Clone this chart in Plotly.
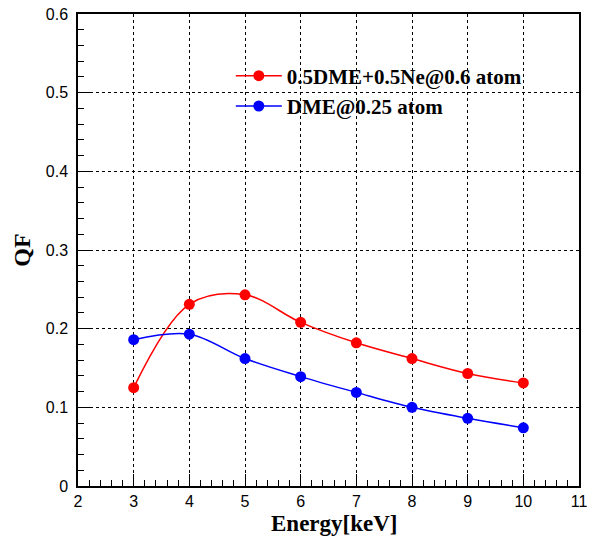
import plotly.graph_objects as go

# Quenching factor versus recoil energy
energy = [3, 4, 5, 6, 7, 8, 9, 10]
qf_dme_ne = [0.125, 0.231, 0.243, 0.208, 0.182, 0.162, 0.143, 0.131]
qf_dme = [0.186, 0.193, 0.162, 0.139, 0.119, 0.100, 0.086, 0.074]

name_dme_ne = "0.5DME+0.5Ne@0.6 atom"
name_dme = "DME@0.25 atom"
x_title = "Energy[keV]"
y_title = "QF"

x_ticks = [2, 3, 4, 5, 6, 7, 8, 9, 10, 11]
y_ticks = [0, 0.1, 0.2, 0.3, 0.4, 0.5, 0.6]
y_tick_text = ["0", "0.1", "0.2", "0.3", "0.4", "0.5", "0.6"]

fig = go.Figure()
fig.add_trace(go.Scatter(
    x=energy, y=qf_dme_ne, name="<b>" + name_dme_ne + "</b>", mode="lines+markers",
    line=dict(color="#ff0000", width=1.5, shape="spline", smoothing=1.0),
    marker=dict(color="#ff0000", size=11, symbol="circle"),
))
fig.add_trace(go.Scatter(
    x=energy, y=qf_dme, name="<b>" + name_dme + "</b>", mode="lines+markers",
    line=dict(color="#0000ff", width=1.5, shape="spline", smoothing=1.0),
    marker=dict(color="#0000ff", size=11, symbol="circle"),
))

tick_font = dict(family="Liberation Sans, Arial, sans-serif", size=16, color="black")
title_font = dict(family="Liberation Serif, Times New Roman, serif", size=24, color="black")
x_title_font = dict(family="Liberation Serif, Times New Roman, serif", size=23, color="black")

axis_common = dict(
    showline=True, linecolor="black", linewidth=1.5, mirror=True,
    showgrid=True, gridcolor="black", gridwidth=1, griddash="dot",
    zeroline=False, ticks="inside", ticklen=12, tickwidth=1, tickcolor="black",
    tickfont=tick_font, automargin=False,
)

fig.update_xaxes(
    range=[2, 11], tickvals=x_ticks, ticktext=[str(v) for v in x_ticks],
    minor=dict(dtick=0.2, ticks="inside", ticklen=6, tickcolor="black", tickwidth=1, showgrid=False),
    ticklabelstandoff=0,
    **axis_common,
)
fig.update_yaxes(
    range=[0, 0.6], tickvals=y_ticks, ticktext=y_tick_text,
    minor=dict(dtick=0.02, ticks="inside", ticklen=6, tickcolor="black", tickwidth=1, showgrid=False),
    title=dict(text="<b>" + y_title + "</b>", font=title_font, standoff=8),
    ticklabelstandoff=5,
    **axis_common,
)

# x-axis title sits at the bottom edge of the page, under the tick labels
fig.add_annotation(
    text="<b>" + x_title + "</b>", xref="paper", yref="paper",
    x=0.51, y=-51 / 472, xanchor="center", yanchor="bottom",
    showarrow=False, font=x_title_font, borderpad=0,
)

fig.update_layout(
    width=604, height=537,
    margin=dict(l=78, r=25, t=14, b=51),
    paper_bgcolor="white", plot_bgcolor="white",
    showlegend=True,
    legend=dict(
        x=0.305, y=0.912, xanchor="left", yanchor="top",
        bgcolor="rgba(255,255,255,0)", borderwidth=0,
        font=dict(family="Liberation Serif, Times New Roman, serif", size=21, color="black"),
        itemwidth=46, tracegroupgap=0,
    ),
)

fig.write_html("out.html")
